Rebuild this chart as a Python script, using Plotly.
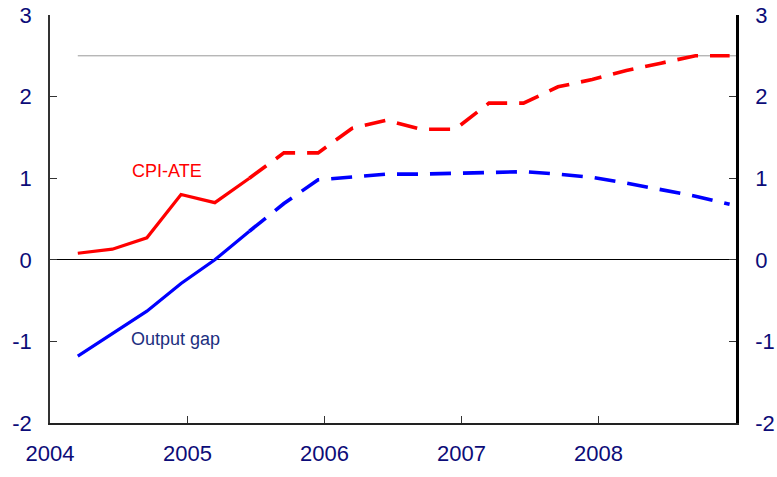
import plotly.graph_objects as go

quarters = ["2004-03-15", "2004-06-15", "2004-09-15", "2004-12-15",
            "2005-03-15", "2005-06-15", "2005-09-15", "2005-12-15",
            "2006-03-15", "2006-06-15", "2006-09-15", "2006-12-15",
            "2007-03-15", "2007-06-15", "2007-09-15", "2007-12-15",
            "2008-03-15", "2008-06-15", "2008-09-15", "2008-12-15"]
cpi_ate = [0.08, 0.13, 0.27, 0.80, 0.70, 1.00, 1.31, 1.31, 1.61, 1.71,
           1.60, 1.60, 1.92, 1.92, 2.12, 2.21, 2.32, 2.41, 2.50, 2.50]
output_gap = [-1.18, -0.90, -0.63, -0.29, 0.00, 0.35, 0.69, 0.98, 1.02, 1.05,
              1.05, 1.06, 1.08, 1.08, 1.05, 1.01, 0.94, 0.86, 0.78, 0.68]
n_actual = 6  # points drawn solid (index 0..5)
target = 2.5
year_ticks = ["2004-01-01", "2005-01-01", "2006-01-01", "2007-01-01", "2008-01-01", "2009-01-01"]
year_labels = ["2004", "2005", "2006", "2007", "2008", ""]
y_ticks = [-2, -1, 0, 1, 2, 3]
y_labels = ["-2", "-1", "0", "1", "2", "3"]

RED = "#ff0000"
BLUE = "#0000ff"
NAVY = "#0c0c78"
FONT = "Arial, Liberation Sans, sans-serif"

fig = go.Figure()
fig.add_trace(go.Scatter(x=quarters[:n_actual], y=cpi_ate[:n_actual], mode="lines",
                         line=dict(color=RED, width=3.2), showlegend=False))
fig.add_trace(go.Scatter(x=quarters[n_actual - 1:], y=cpi_ate[n_actual - 1:], mode="lines",
                         line=dict(color=RED, width=3.6, dash="21px,12px"), showlegend=False))
fig.add_trace(go.Scatter(x=quarters[:n_actual], y=output_gap[:n_actual], mode="lines",
                         line=dict(color=BLUE, width=3.2), showlegend=False))
fig.add_trace(go.Scatter(x=quarters[n_actual - 1:], y=output_gap[n_actual - 1:], mode="lines",
                         line=dict(color=BLUE, width=3.6, dash="21px,12px"), showlegend=False))
# dummy trace for right axis
fig.add_trace(go.Scatter(x=[quarters[0]], y=[None], yaxis="y2", showlegend=False, hoverinfo="skip"))

fig.add_shape(type="line", xref="x", yref="y", x0=quarters[0], x1="2009-01-01",
              y0=target, y1=target, line=dict(color="#999999", width=1), layer="below")

fig.add_annotation(x="2004-11-07", y=1.09, text="CPI-ATE", showarrow=False,
                   font=dict(family=FONT, size=18, color=RED))
fig.add_annotation(x="2004-12-01", y=-0.97, text="Output gap", showarrow=False,
                   font=dict(family=FONT, size=18, color="#1c2f80"))

axis_font = dict(family=FONT, size=22, color=NAVY)
fig.update_layout(
    width=777, height=477,
    margin=dict(l=50, r=41, t=15, b=54),
    paper_bgcolor="white", plot_bgcolor="white",
    xaxis=dict(type="date", range=["2004-01-01", "2009-01-01"], tickvals=year_ticks,
               ticktext=year_labels, ticks="inside", ticklen=7, tickcolor="#333333",
               showgrid=False, showline=True, linecolor="#222222", linewidth=1.5,
               tickfont=axis_font, zeroline=False, automargin=False,
               ticklabelstandoff=10, ticklabeloverflow="allow"),
    yaxis=dict(range=[-2, 3], tickvals=y_ticks, ticktext=y_labels, ticks="inside", ticklen=7,
               tickcolor="#333333", showgrid=False, showline=True, linecolor="#333333",
               linewidth=1.5, tickfont=axis_font, zeroline=True, zerolinecolor="black",
               zerolinewidth=1, ticklabelstandoff=12, automargin=False,
               ticklabeloverflow="allow"),
    yaxis2=dict(range=[-2, 3], tickvals=y_ticks, ticktext=y_labels, overlaying="y", side="right",
                ticks="inside", ticklen=7, tickcolor="#333333", showgrid=False,
                showline=True, linecolor="black", linewidth=2.5, tickfont=axis_font,
                zeroline=False, ticklabelstandoff=12, automargin=False,
                ticklabeloverflow="allow"),
)

fig.write_html("out.html", config={"displayModeBar": False},
               post_script="document.body.style.margin='0';document.body.style.overflow='hidden';")
